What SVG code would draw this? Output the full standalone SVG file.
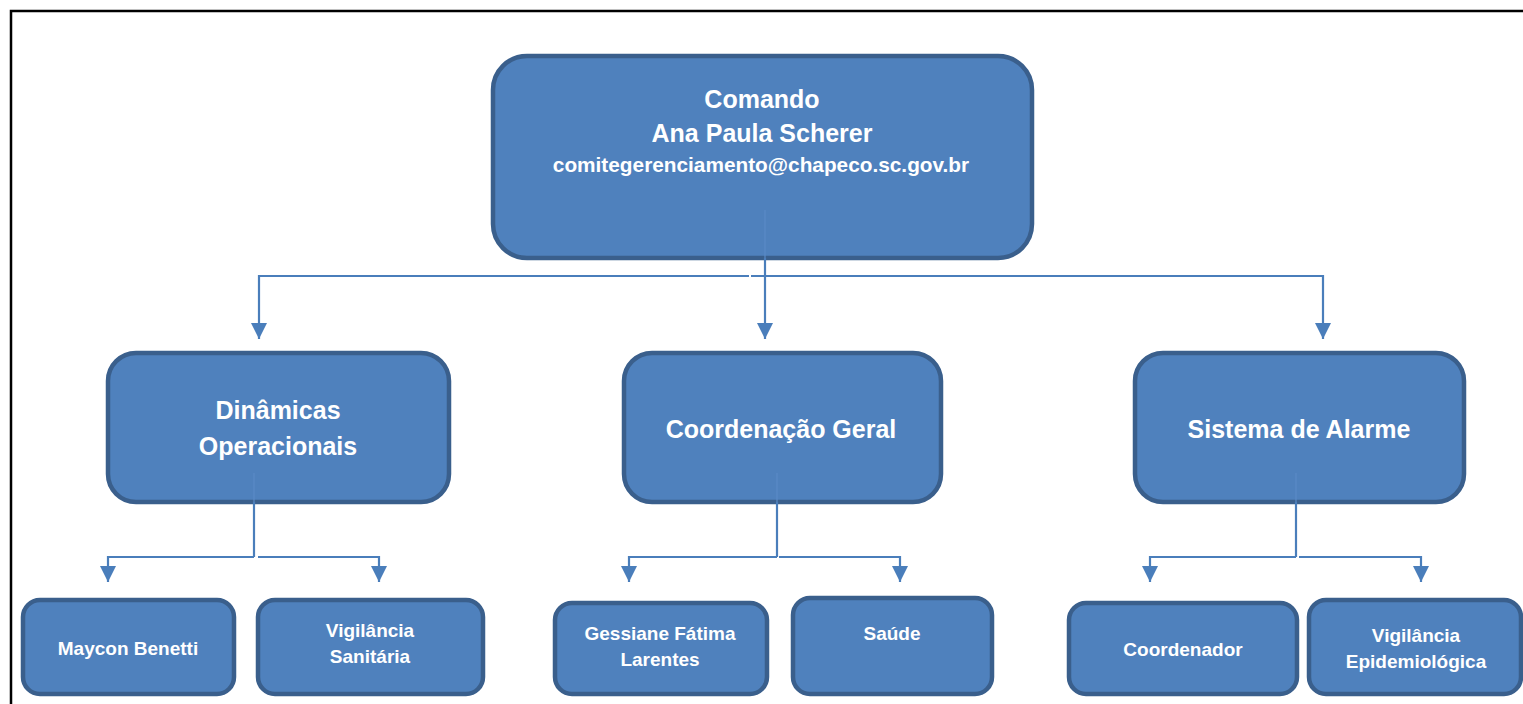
<svg xmlns="http://www.w3.org/2000/svg" width="1523" height="704" viewBox="0 0 1523 704">
  <style>
    .box { fill: #4f81bd; stroke: #3a5f8c; stroke-width: 4.5; }
    .t { fill: #ffffff; font-family: "Liberation Sans", Arial, sans-serif; font-weight: bold; text-anchor: middle; }
    .t25 { font-size: 25px; }
    .t20 { font-size: 20.8px; }
    .t18 { font-size: 19px; }
    .conn { fill: none; stroke: #4a7ebb; stroke-width: 2.2; }
    .inner { fill: none; stroke: #5a8ac6; stroke-width: 1.2; }
  </style>
  <defs>
    <marker id="arr" viewBox="0 0 16 16" refX="16" refY="8" markerWidth="16" markerHeight="16" markerUnits="userSpaceOnUse" orient="auto" preserveAspectRatio="none">
      <path d="M0,0 L16,8 L0,16 z" fill="#4a7ebb"/>
    </marker>
  </defs>
  <rect width="1523" height="704" fill="#ffffff"/>
  <g id="frame">
    <path d="M11,704 L11,11 L1523,11" fill="none" stroke="#000000" stroke-width="2.5"/>
  </g>

  <g id="comando">
    <rect class="box" x="493" y="56" width="539" height="202" rx="34" ry="34"/>
    <text class="t t25" x="762" y="108">Comando</text>
    <text class="t t25" x="762" y="142">Ana Paula Scherer</text>
    <text class="t t20" x="761" y="172">comitegerenciamento@chapeco.sc.gov.br</text>
  </g>

  <g id="dinamicas">
    <rect class="box" x="108" y="353" width="341" height="149" rx="28" ry="28"/>
    <text class="t t25" x="278" y="419">Dinâmicas</text>
    <text class="t t25" x="278" y="455">Operacionais</text>
  </g>
  <g id="coordenacao">
    <rect class="box" x="624" y="353" width="317" height="149" rx="28" ry="28"/>
    <text class="t t25" x="781" y="438">Coordenação Geral</text>
  </g>
  <g id="alarme">
    <rect class="box" x="1135" y="353" width="329" height="149" rx="28" ry="28"/>
    <text class="t t25" x="1299" y="438">Sistema de Alarme</text>
  </g>

  <g id="maycon">
    <rect class="box" x="23" y="600" width="211" height="94" rx="17" ry="17"/>
    <text class="t t18" x="128" y="655">Maycon Benetti</text>
  </g>
  <g id="vig-sanitaria">
    <rect class="box" x="258" y="600" width="225" height="94" rx="17" ry="17"/>
    <text class="t t18" x="370" y="637">Vigilância</text>
    <text class="t t18" x="370" y="663">Sanitária</text>
  </g>
  <g id="gessiane">
    <rect class="box" x="555" y="603" width="212" height="91" rx="17" ry="17"/>
    <text class="t t18" x="660" y="640">Gessiane Fátima</text>
    <text class="t t18" x="660" y="666">Larentes</text>
  </g>
  <g id="saude">
    <rect class="box" x="793" y="598" width="199" height="96" rx="17" ry="17"/>
    <text class="t t18" x="892" y="640">Saúde</text>
  </g>
  <g id="coordenador">
    <rect class="box" x="1069" y="603" width="228" height="91" rx="17" ry="17"/>
    <text class="t t18" x="1183" y="656">Coordenador</text>
  </g>
  <g id="vig-epidemiologica">
    <rect class="box" x="1309" y="600" width="212" height="94" rx="17" ry="17"/>
    <text class="t t18" x="1416" y="642">Vigilância</text>
    <text class="t t18" x="1416" y="668">Epidemiológica</text>
  </g>

  <g id="connectors">
    <line class="inner" x1="765" y1="210" x2="765" y2="258"/>
    <line class="conn" x1="765" y1="258" x2="765" y2="339" marker-end="url(#arr)"/>
    <path class="conn" d="M749,276 L259,276 L259,339" marker-end="url(#arr)"/>
    <path class="conn" d="M751,276 L1323,276 L1323,339" marker-end="url(#arr)"/>

    <line class="inner" x1="254" y1="473" x2="254" y2="502"/>
    <line class="conn" x1="254" y1="502" x2="254" y2="557"/>
    <path class="conn" d="M254,557 L108,557 L108,582" marker-end="url(#arr)"/>
    <path class="conn" d="M258,557 L379,557 L379,582" marker-end="url(#arr)"/>

    <line class="inner" x1="777" y1="473" x2="777" y2="502"/>
    <line class="conn" x1="777" y1="502" x2="777" y2="557"/>
    <path class="conn" d="M777,557 L629,557 L629,582" marker-end="url(#arr)"/>
    <path class="conn" d="M779,557 L900,557 L900,582" marker-end="url(#arr)"/>

    <line class="inner" x1="1296" y1="473" x2="1296" y2="502"/>
    <line class="conn" x1="1296" y1="502" x2="1296" y2="557"/>
    <path class="conn" d="M1296,557 L1150,557 L1150,582" marker-end="url(#arr)"/>
    <path class="conn" d="M1299,557 L1421,557 L1421,582" marker-end="url(#arr)"/>
  </g>
</svg>
